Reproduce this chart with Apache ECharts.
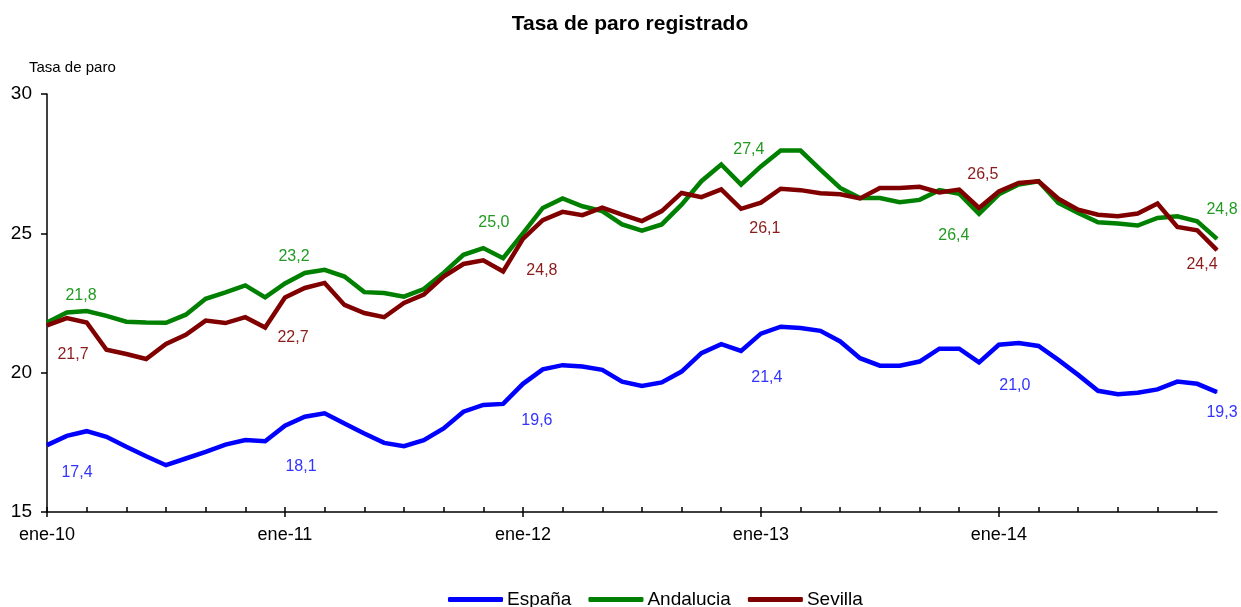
<!DOCTYPE html>
<html>
<head>
<meta charset="utf-8">
<script src="https://cdn.jsdelivr.net/npm/echarts@6/dist/echarts.min.js"></script>
<style>
html,body{margin:0;padding:0;background:#fff;}
#chart{width:1241px;height:607px;}
</style>
</head>
<body>
<div id="chart"></div>
<script>
// ---- data ----
var monthNames = ['ene','feb','mar','abr','may','jun','jul','ago','sep','oct','nov','dic'];
var years = ['10','11','12','13','14'];
var seriesNames = ['España', 'Andalucia', 'Sevilla'];
var espana = [17.4,17.73,17.9,17.7,17.34,17.0,16.68,16.92,17.16,17.42,17.58,17.54,
  18.1,18.42,18.54,18.18,17.82,17.48,17.36,17.58,18.0,18.6,18.84,18.88,
  19.6,20.12,20.27,20.22,20.1,19.68,19.52,19.65,20.04,20.7,21.02,20.78,
  21.4,21.65,21.6,21.5,21.12,20.52,20.25,20.25,20.4,20.86,20.86,20.37,
  21.0,21.06,20.96,20.46,19.92,19.35,19.23,19.28,19.4,19.68,19.6,19.3];
var andalucia = [21.8,22.16,22.21,22.04,21.83,21.8,21.79,22.08,22.65,22.88,23.13,22.7,
  23.2,23.58,23.69,23.45,22.89,22.86,22.73,23.0,23.58,24.23,24.47,24.11,
  25.0,25.91,26.25,25.97,25.8,25.32,25.1,25.32,26.03,26.87,27.47,26.75,
  27.4,27.97,27.97,27.29,26.63,26.27,26.27,26.12,26.2,26.55,26.42,25.7,
  26.4,26.75,26.87,26.09,25.73,25.4,25.35,25.28,25.55,25.61,25.43,24.8];
var sevilla = [21.7,21.96,21.8,20.82,20.67,20.49,21.03,21.36,21.87,21.78,21.99,21.62,
  22.7,23.04,23.22,22.43,22.14,21.99,22.5,22.8,23.45,23.9,24.03,23.63,
  24.8,25.47,25.77,25.65,25.92,25.67,25.44,25.8,26.45,26.3,26.58,25.88,
  26.1,26.6,26.55,26.44,26.4,26.25,26.63,26.63,26.67,26.47,26.57,25.91,
  26.5,26.81,26.87,26.24,25.85,25.67,25.61,25.71,26.07,25.23,25.11,24.4];
var labeledIdx = [0, 12, 24, 36, 48, 59];
var yTicks = [15, 20, 25, 30];

// ---- layout / style (not data) ----
var categories = [];
years.forEach(function (y) { monthNames.forEach(function (m) { categories.push(m + '-' + y); }); });
var labelOffsets = {
  'España':    [[30,27],[16,41],[14,37],[6,44],[16,41],[5,20]],
  'Andalucia': [[34,-27],[9,-27],[-29,-11],[-12,-17],[-45,41],[5,-29]],
  'Sevilla':   [[26,29],[8,40],[19,32],[4,26],[-16,-17],[-15,15]]
};
var lineColors = {'España':'#0000ff','Andalucia':'#008000','Sevilla':'#800000'};
var labelColors = {'España':'#3333ff','Andalucia':'#229a22','Sevilla':'#8b1a1a'};
var FONT = '"Liberation Sans", Arial, sans-serif';

function fmt(v) { return v.toFixed(1).replace('.', ','); }

function buildSeries(name, values) {
  var data = values.map(function (v, i) {
    var k = labeledIdx.indexOf(i);
    if (k < 0) return v;
    return {
      value: v,
      label: {
        show: true, position: 'inside', offset: labelOffsets[name][k],
        formatter: function (p) { return fmt(p.value); },
        color: labelColors[name], fontSize: 16, fontFamily: FONT
      }
    };
  });
  return {
    name: name, type: 'line', data: data,
    showSymbol: true, showAllSymbol: true, symbol: 'circle', symbolSize: 1,
    itemStyle: {color: lineColors[name]},
    lineStyle: {color: lineColors[name], width: 4.5, join: 'miter'},
    label: {show: false},
    emphasis: {disabled: true},
    animation: false
  };
}

var chart = echarts.init(document.getElementById('chart'), null, {renderer: 'canvas'});
chart.setOption({
  backgroundColor: '#ffffff',
  animation: false,
  title: {
    text: 'Tasa de paro registrado', left: 625, top: 9, textAlign: 'center',
    textStyle: {fontFamily: FONT, fontSize: 21, fontWeight: 'bold', color: '#000'}
  },
  graphic: [{
    type: 'text', left: 29, top: 60,
    style: {text: 'Tasa de paro', font: '15px ' + FONT, fill: '#000'}
  }],
  legend: {
    bottom: -7, left: 443, itemWidth: 55, itemHeight: 5, itemGap: 17,
    icon: 'roundRect',
    textStyle: {fontFamily: FONT, fontSize: 19, color: '#000', padding: [0,0,0,-1]},
    data: seriesNames
  },
  grid: {left: 47, right: 24, top: 94, bottom: 95, containLabel: false},
  xAxis: [{
    type: 'category', data: categories, boundaryGap: false,
    axisLine: {lineStyle: {color: '#000', width: 1.5}},
    axisTick: {show: true, inside: true, length: 5, lineStyle: {color: '#000', width: 1.5},
      interval: function (i) { return i % 2 === 0; }},
    axisLabel: {interval: function (i) { return i % 12 === 0; }, margin: 14,
      fontFamily: FONT, fontSize: 18, color: '#000'},
    splitLine: {show: false}
  }, {
    type: 'category', data: categories, boundaryGap: false, position: 'bottom',
    axisLine: {show: false},
    axisTick: {show: true, inside: false, length: 5, lineStyle: {color: '#000', width: 1.5},
      interval: function (i) { return i % 12 === 0; }},
    axisLabel: {show: false},
    splitLine: {show: false}
  }],
  yAxis: {
    type: 'value', min: yTicks[0], max: yTicks[yTicks.length - 1], interval: 5,
    axisLine: {show: true, lineStyle: {color: '#000', width: 1.5}},
    axisTick: {show: true, length: 6, lineStyle: {color: '#000', width: 1.5}},
    axisLabel: {margin: 15, fontFamily: FONT, fontSize: 19, color: '#000'},
    splitLine: {show: false}
  },
  series: [
    buildSeries('España', espana),
    buildSeries('Andalucia', andalucia),
    buildSeries('Sevilla', sevilla)
  ]
});
</script>
</body>
</html>
